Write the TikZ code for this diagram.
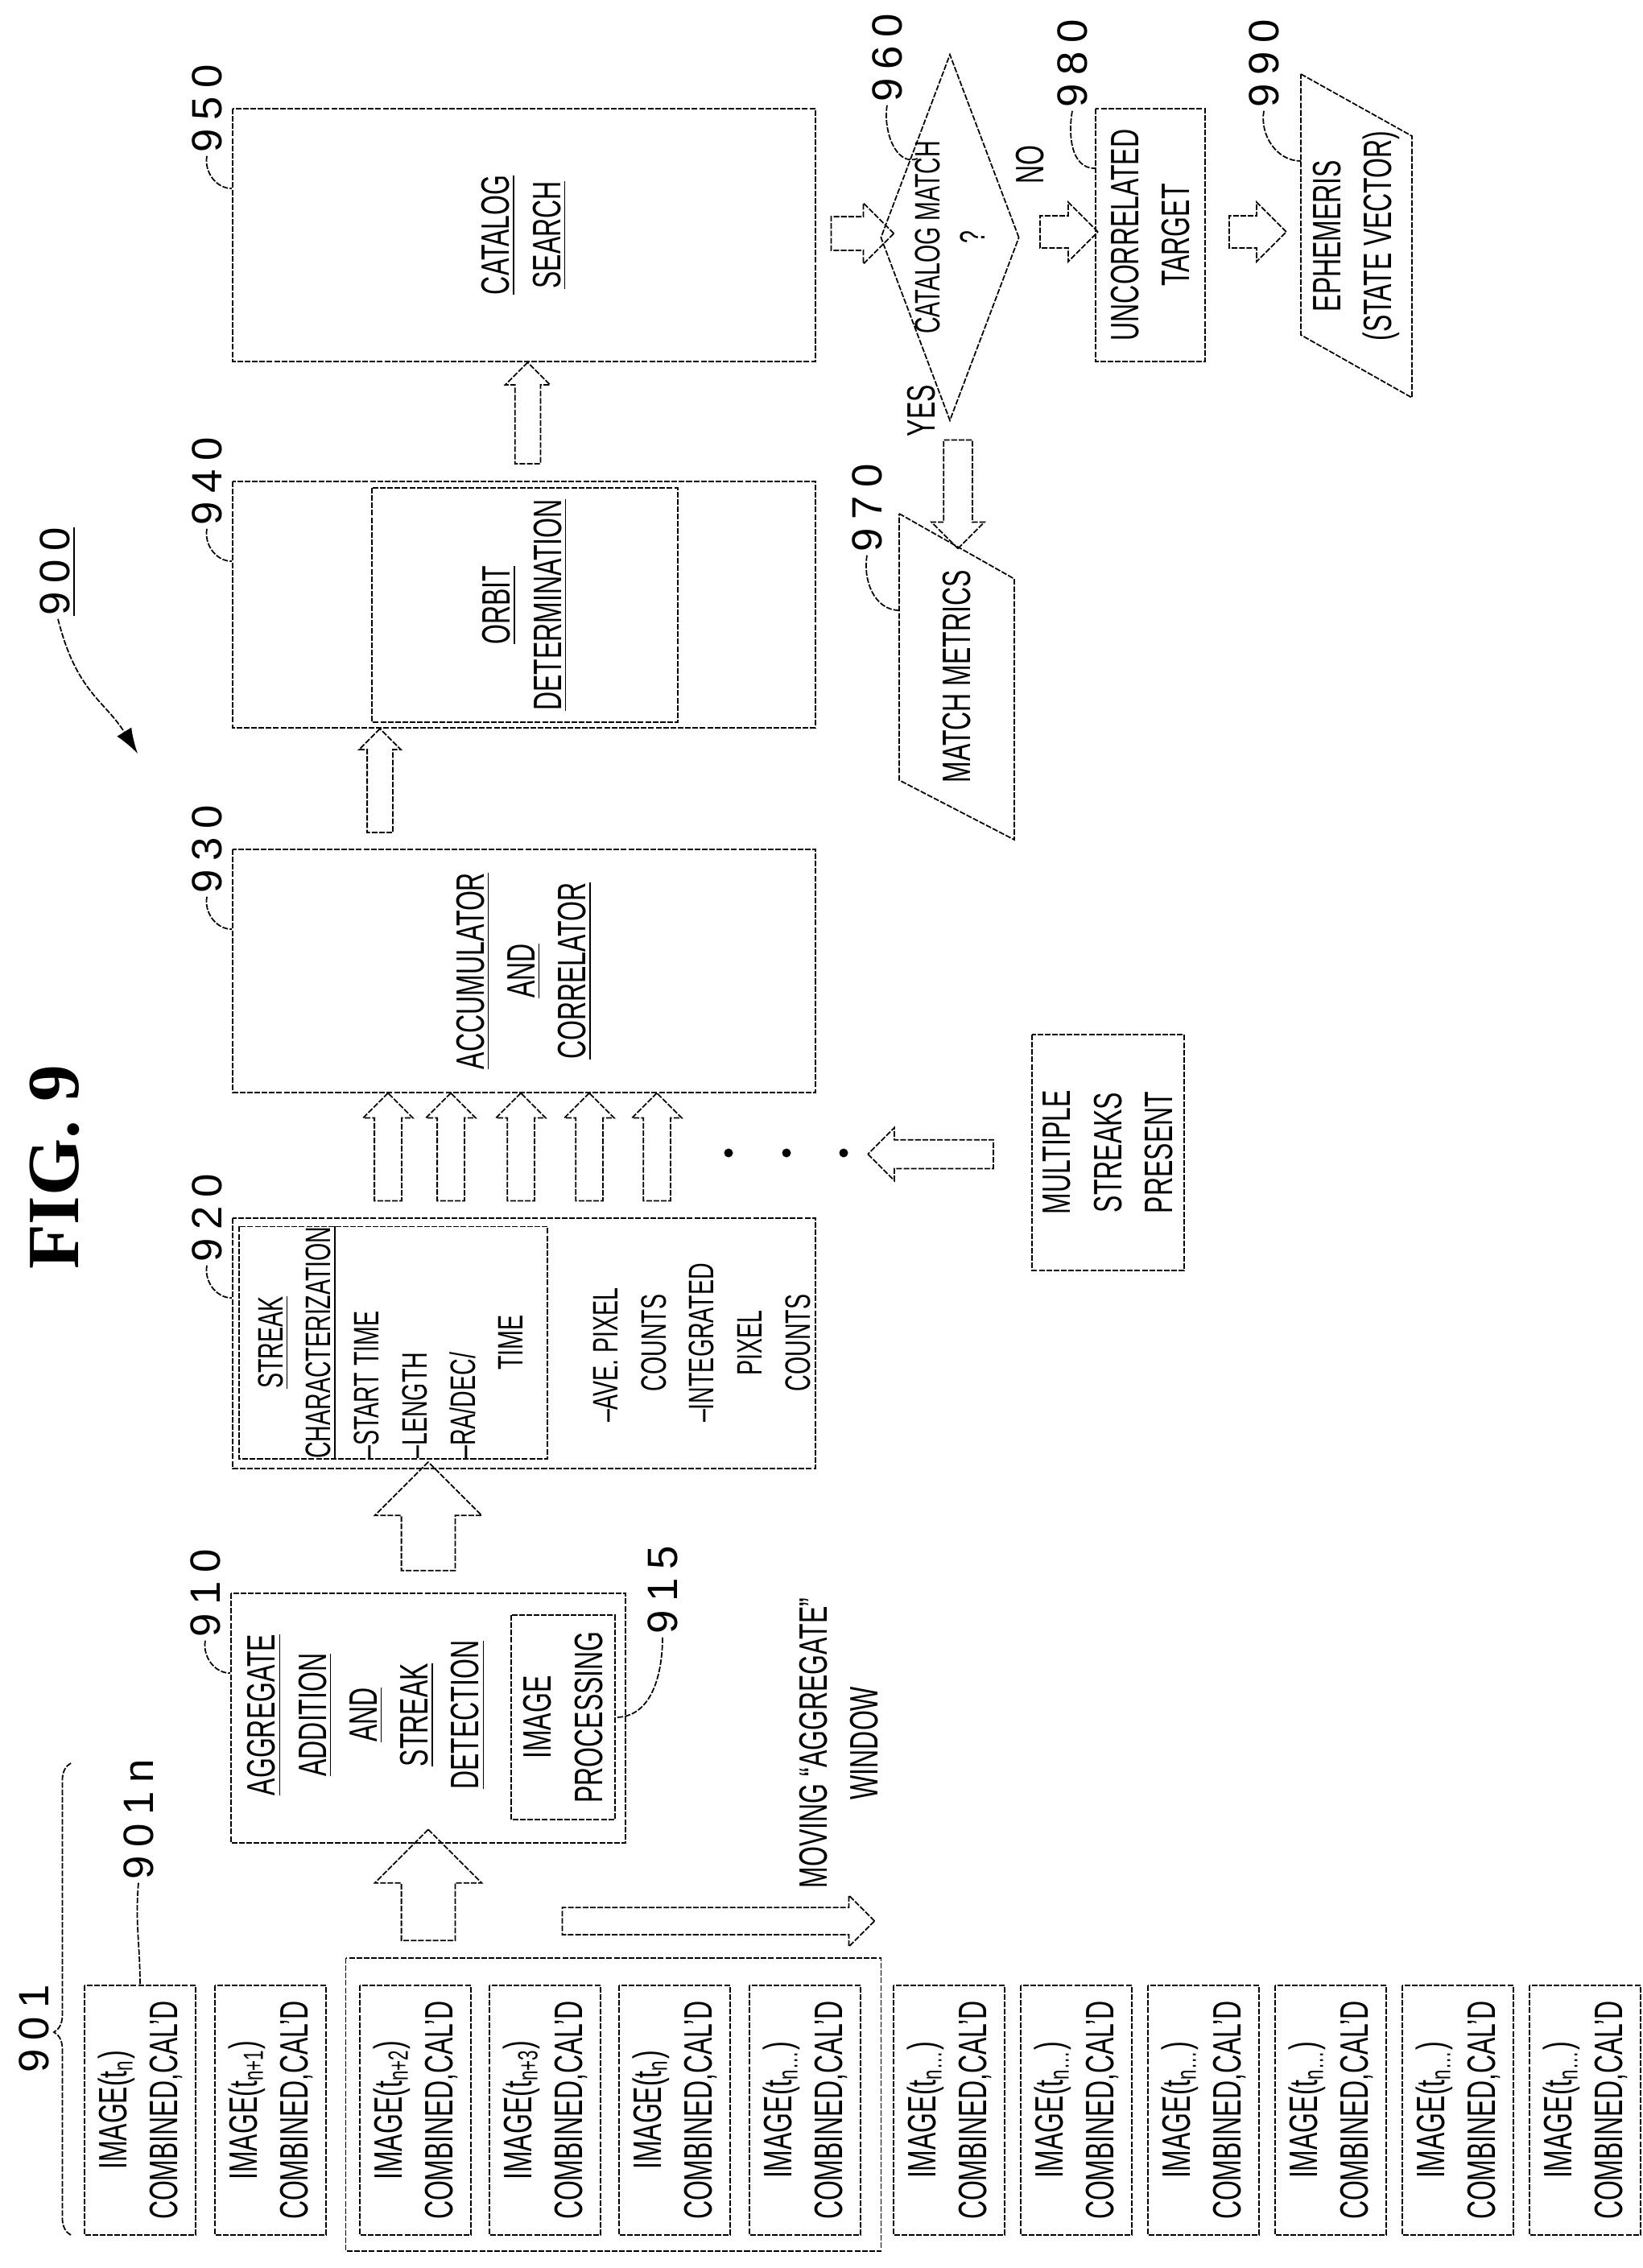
\documentclass[tikz,border=0pt]{standalone}
\usepackage{fontspec}
\setmainfont{Liberation Sans}[FakeStretch=0.65]
\newfontfamily\reffont{Liberation Sans}[LetterSpace=20]
\newfontfamily\figfont{Liberation Serif}
\usetikzlibrary{shapes.geometric,shapes.arrows,calc,decorations.pathreplacing,arrows.meta}
\tikzset{
  ln/.style={line width=0.5pt, dash pattern=on 2pt off 0.6pt},
  box/.style={ln, draw, rotate=90, align=center, inner sep=0pt, font=\fontsize{14}{18}\selectfont},
  txt/.style={rotate=90, align=center, inner sep=0pt, font=\fontsize{14}{18}\selectfont},
  reflab/.style={rotate=90, inner sep=1pt, font=\reffont\fontsize{15}{15}\selectfont},
  barrow/.style={ln, draw, single arrow, inner xsep=0pt}
}
\begin{document}
\begin{tikzpicture}
        \useasboundingbox (0,0) rectangle (20.41,-28.17);
        % main boxes
        \node[box, minimum width=3.14cm, minimum height=7.24cm] (n950) at (6.51,-2.92) {\underline{CATALOG}\\\underline{SEARCH}};
        \node[box, minimum width=3.06cm, minimum height=7.24cm] (n940) at (6.51,-7.51) {};
        \node[box, minimum width=2.91cm, minimum height=3.80cm] (orb) at (6.52,-7.515) {\underline{ORBIT}\\\underline{DETERMINATION}};
        \node[box, minimum width=3.02cm, minimum height=7.24cm] (n930) at (6.51,-12.06) {\underline{ACCUMULATOR}\\\underline{AND}\\\underline{CORRELATOR}};
        \node[box, minimum width=3.11cm, minimum height=7.24cm] (n920) at (6.51,-16.685) {};
        \node[box, minimum width=2.87cm, minimum height=3.83cm, font=\fontsize{12.5}{17}\selectfont] (chr) at (4.885,-16.675)
            {\begin{tabular}{@{}l@{}}\multicolumn{1}{@{}c@{}}{\underline{STREAK}}\\\multicolumn{1}{@{}c@{}}{\underline{CHARACTERIZATION}}\\
             --START TIME\\--LENGTH\\--RA/DEC/\\\hspace*{1.1cm}TIME\end{tabular}};
        \node[txt, font=\fontsize{12.5}{17}\selectfont] (cnt) at (8.75,-16.68)
            {\begin{tabular}{@{}l@{}}--AVE. PIXEL\\\multicolumn{1}{@{}c@{}}{COUNTS}\\--INTEGRATED\\\multicolumn{1}{@{}c@{}}{PIXEL}\\\multicolumn{1}{@{}c@{}}{COUNTS}\end{tabular}};
        \node[box, minimum width=3.10cm, minimum height=4.90cm] (n910) at (5.32,-21.34) {};
        \node[txt] (t910) at (4.55,-21.3) {\underline{AGGREGATE}\\\underline{ADDITION}\\\underline{AND}\\\underline{STREAK}\\\underline{DETECTION}};
        \node[box, minimum width=2.54cm, minimum height=1.29cm] (n915) at (6.995,-21.33) {IMAGE\\PROCESSING};

        % image frames
        \node[box, minimum width=3.64cm, minimum height=6.65cm] (grp) at (7.62,-26.14) {};
        \foreach \x/\sub [count=\i] in {1.05/{n},2.67/{n+1},4.47/{n+2},6.08/{n+3},7.69/{n},9.31/{n\dots},
                                        11.10/{n\dots},12.68/{n\dots},14.26/{n\dots},15.84/{n\dots},17.42/{n\dots},19.0/{n\dots}}
            \node[box, minimum width=3.10cm, minimum height=1.38cm] (img\i) at (\x+0.69,-26.21) {IMAGE(t\textsubscript{\sub})\\COMBINED,CAL'D};

        % output side
        \node[ln, draw, diamond, aspect=0.38, minimum width=1.72cm, minimum height=4.55cm, inner sep=0pt] (n960) at (11.8,-2.95) {};
        \node[txt, font=\fontsize{12.5}{16}\selectfont] (t960) at (11.8,-2.95) {CATALOG MATCH\\?};
        \node[box, minimum width=3.14cm, minimum height=1.36cm] (n980) at (14.29,-2.92) {UNCORRELATED\\TARGET};
        \node[box, minimum width=2.93cm, minimum height=1.89cm] (ms) at (13.765,-14.315) {MULTIPLE\\STREAKS\\PRESENT};
        \coordinate (m1) at (11.17,-6.38);
        \coordinate (m2) at (12.60,-7.19);
        \coordinate (m3) at (12.60,-10.43);
        \coordinate (m4) at (11.17,-9.69);
        \draw[ln] (m1) -- (m2) -- (m3) -- (m4) -- cycle;
        \node[txt] (n970) at ($(m1)!0.5!(m3)$) {MATCH METRICS};
        \coordinate (e1) at (16.16,-0.92);
        \coordinate (e2) at (17.54,-1.69);
        \coordinate (e3) at (17.54,-4.94);
        \coordinate (e4) at (16.16,-4.16);
        \draw[ln] (e1) -- (e2) -- (e3) -- (e4) -- cycle;
        \node[txt] (n990) at ($(e1)!0.5!(e3)$) {EPHEMERIS\\(STATE VECTOR)};

        % block arrows
        \node[barrow, rotate=90, minimum height=1.38cm, inner ysep=0.325cm, single arrow head extend=0.33cm] (a1) at (5.32,-23.58) {};
        \node[barrow, rotate=90, minimum height=1.35cm, inner ysep=0.325cm, single arrow head extend=0.33cm] (a2) at (5.32,-19.0) {};
        \foreach \x [count=\i] in {4.82,5.60,6.47,7.32,8.16}
            \node[barrow, rotate=90, minimum height=1.34cm, inner ysep=0.16cm, single arrow head extend=0.14cm] (b\i) at (\x,-14.33) {};
        \foreach \x in {9.05,9.77,10.48}
            \fill (\x,-14.32) circle (0.055);
        \node[barrow, rotate=180, minimum height=1.56cm, inner ysep=0.17cm, single arrow head extend=0.15cm] (a3) at (11.65,-14.335) {};
        \node[barrow, rotate=90, minimum height=1.29cm, inner ysep=0.15cm, single arrow head extend=0.1cm] (a4) at (4.72,-9.775) {};
        \node[barrow, rotate=90, minimum height=1.26cm, inner ysep=0.15cm, single arrow head extend=0.12cm] (a5) at (6.555,-5.21) {};
        \node[barrow, minimum height=0.78cm, inner ysep=0.2cm, single arrow head extend=0.17cm] (a6) at (10.61,-2.9) {};
        \node[barrow, minimum height=0.72cm, inner ysep=0.19cm, single arrow head extend=0.17cm] (a7) at (13.18,-2.88) {};
        \node[barrow, minimum height=0.71cm, inner ysep=0.19cm, single arrow head extend=0.17cm] (a8) at (15.525,-2.88) {};
        \node[barrow, rotate=-90, minimum height=1.35cm, inner ysep=0.17cm, single arrow head extend=0.15cm] (a9) at (11.9,-6.05) {};
        \node[barrow, minimum height=3.88cm, inner ysep=0.16cm, single arrow head extend=0.15cm] (a10) at (8.84,-23.86) {};

        % small texts
        \node[txt] (no) at (12.8,-2.05) {NO};
        \node[txt] (yes) at (11.45,-5.1) {YES};
        \node[txt] (mov) at (10.42,-21.65) {MOVING “AGGREGATE”\\WINDOW};
        \node[rotate=90, font=\figfont\bfseries\fontsize{26}{26}\selectfont] (fig) at (0.68,-14.5) {FIG. 9};

        % reference numerals
        \node[reflab] (l950) at (2.57,-1.35) {950};
        \node[reflab] (l940) at (2.57,-5.98) {940};
        \node[reflab] (l930) at (2.57,-10.55) {930};
        \node[reflab] (l920) at (2.57,-15.13) {920};
        \node[reflab] (l910) at (2.55,-19.79) {910};
        \node[reflab] (l915) at (8.23,-19.75) {915};
        \node[reflab] (l960) at (11.02,-0.72) {960};
        \node[reflab] (l970) at (10.77,-6.31) {970};
        \node[reflab] (l980) at (13.32,-0.79) {980};
        \node[reflab] (l990) at (15.7,-0.79) {990};
        \node[reflab] (l901n) at (1.72,-22.6) {901n};
        \node[reflab] (l901) at (0.42,-25.2) {901};
        \node[reflab] (l900) at (0.72,-7.1) {\underline{900}};
        \foreach \n in {950,940,930,920,910}
            \draw[ln] (l\n.west) to[out=-100,in=180] ($(n\n.north east)+(0,-1.0)$);
        \draw[ln] (l915.west) to[out=-90,in=0] (n915.south);
        \draw[ln] (l960.west) to[out=-100,in=200] (11.4,-1.97);
        \draw[ln] (l970.west) to[out=-100,in=180] (11.17,-7.58);
        \draw[ln] (l980.west) to[out=-100,in=180] ($(n980.north east)+(0,-0.75)$);
        \draw[ln] (l990.west) to[out=-100,in=180] (16.16,-2.0);
        \draw[ln] (l901n.west) to[out=-95,in=90] (img1.east);
        \draw[ln, -{Latex[length=9pt,width=6pt]}] (l900.west) .. controls (0.95,-8.6) and (1.3,-8.7) .. (1.71,-9.36);
        \draw[ln, decorate, decoration={brace, amplitude=6pt, aspect=0.43}] (0.88,-27.76) -- (0.88,-21.9);
\end{tikzpicture}
\end{document}
